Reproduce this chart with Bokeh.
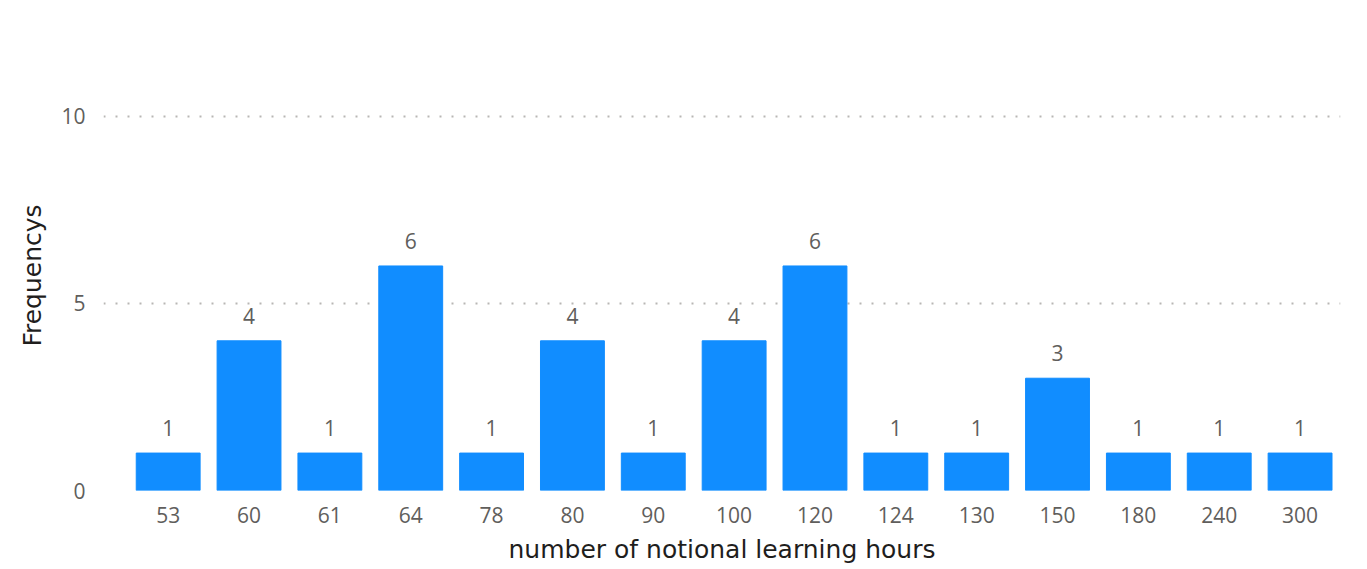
from bokeh.plotting import figure
from bokeh.models import ColumnDataSource, Range1d, FixedTicker
from bokeh.core.properties import value
from bokeh.embed import file_html
from bokeh.resources import INLINE

categories = ["53", "60", "61", "64", "78", "80", "90", "100", "120", "124", "130", "150", "180", "240", "300"]
frequencies = [1, 4, 1, 6, 1, 4, 1, 4, 6, 1, 1, 3, 1, 1, 1]
y_ticks = [0, 5, 10]

idx = list(range(len(categories)))
src = ColumnDataSource(dict(x=idx, top=frequencies, label=[str(v) for v in frequencies]))

p = figure(width=1351, height=568, output_backend="svg", toolbar_location=None,
           x_range=Range1d(-0.8, 14.5), y_range=Range1d(0, 11.49),
           min_border_left=103, min_border_right=11, min_border_top=60, min_border_bottom=78)
p.outline_line_color = None
p.background_fill_color = "white"
p.border_fill_color = "white"

p.vbar(x="x", top="top", width=0.79, bottom=0, source=src, color="#118DFF")
p.text(x="x", y="top", text="label", source=src, text_align="center", text_baseline="bottom",
       y_offset=-17, text_font=value("Open Sans"), text_font_size="21px", text_color="#605E5C")

# x axis
p.xaxis.ticker = FixedTicker(ticks=idx)
p.xaxis.major_label_overrides = {i: c for i, c in zip(idx, categories)}
p.xaxis.axis_line_color = None
p.xaxis.major_tick_line_color = None
p.xaxis.minor_tick_line_color = None
p.xaxis.major_label_standoff = 10
p.xaxis.major_label_text_font = "Open Sans"
p.xaxis.major_label_text_font_size = "21px"
p.xaxis.major_label_text_color = "#605E5C"
p.xaxis.axis_label = "number of notional learning hours"
p.xaxis.axis_label_text_font = "DejaVu Sans"
p.xaxis.axis_label_text_font_style = "normal"
p.xaxis.axis_label_text_font_size = "25px"
p.xaxis.axis_label_text_color = "#1F1E1D"
p.xaxis.axis_label_standoff = 9

# y axis
p.yaxis.ticker = FixedTicker(ticks=y_ticks)
p.yaxis.axis_line_color = None
p.yaxis.major_tick_line_color = None
p.yaxis.minor_tick_line_color = None
p.yaxis.major_label_standoff = 12
p.yaxis.major_label_text_font = "Open Sans"
p.yaxis.major_label_text_font_size = "21px"
p.yaxis.major_label_text_color = "#605E5C"
p.yaxis.axis_label = "Frequencys"
p.yaxis.axis_label_text_font = "DejaVu Sans"
p.yaxis.axis_label_text_font_style = "normal"
p.yaxis.axis_label_text_font_size = "25px"
p.yaxis.axis_label_text_color = "#1F1E1D"
p.yaxis.axis_label_standoff = 11

p.xgrid.grid_line_color = None
p.ygrid.grid_line_color = "#B8B6B4"
p.ygrid.grid_line_width = 2
p.ygrid.grid_line_dash = "2 10"

open("out.html", "w").write(file_html(p, INLINE))
